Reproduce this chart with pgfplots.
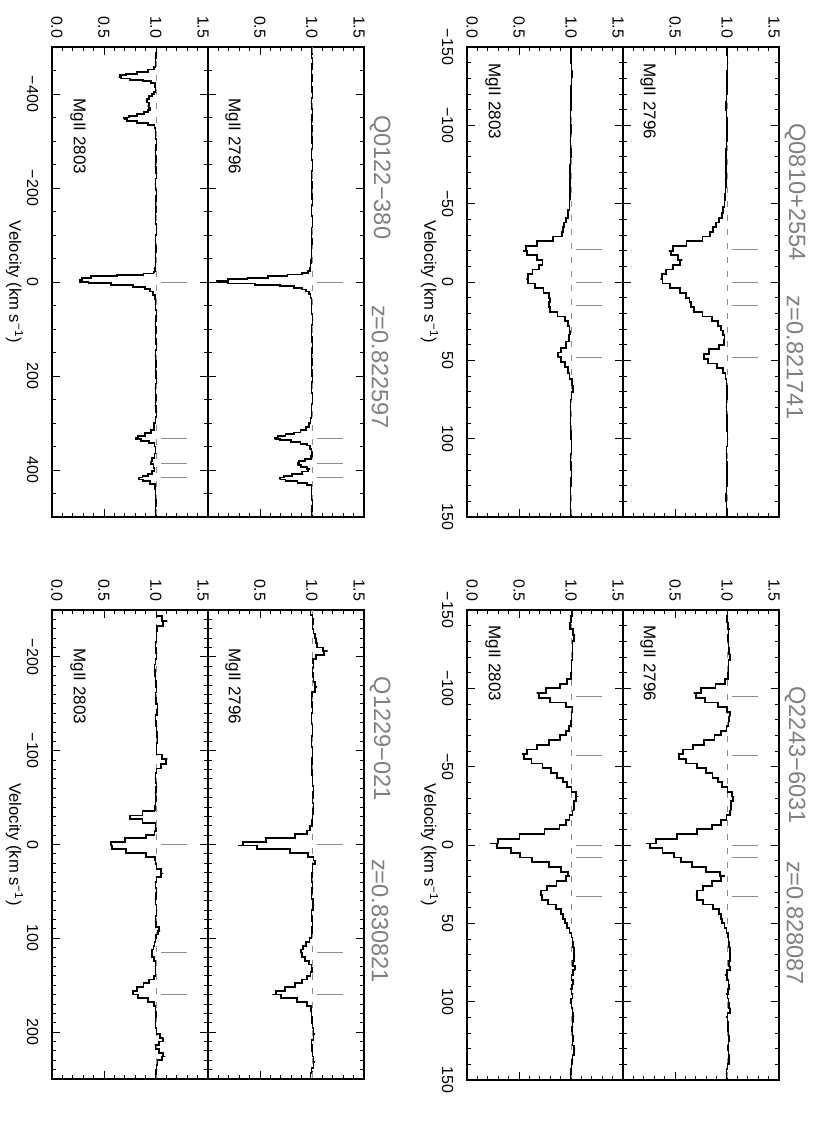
\documentclass[border=0pt]{standalone}
\usepackage{fontspec}
\setmainfont{Liberation Sans}
\usepackage{pgfplots}
\pgfplotsset{compat=1.18}
\definecolor{titlegray}{gray}{0.5}
\definecolor{markgray}{gray}{0.55}
\newcommand{\fluxlo}{\raisebox{2.5pt}[\height][\depth]{0.0}}
\newcommand{\fluxhi}{\raisebox{-2.5pt}[\height][\depth]{1.5}}
\pgfplotsset{
  panel/.style={
    y={(52pt,0pt)}, ymin=0, ymax=1.5,
    ytick={0,0.5,1,1.5}, minor ytick={0.1,0.2,0.3,0.4,0.6,0.7,0.8,0.9,1.1,1.2,1.3,1.4},
    anchor=origin, clip=false,
    axis line style={line width=0.7pt},
    tick style={black,line width=0.45pt},
    major tick length=4pt, minor tick length=2.2pt,
    tick align=inside,
    xtick pos=both, ytick pos=both,
    xticklabel pos=right, yticklabel pos=right,
    /pgf/number format/assume math mode=true,
    tick label style={font=\fontsize{8}{9.6}\selectfont},
    xticklabel style={rotate=-90,anchor=north},
    yticklabel style={rotate=-90,anchor=east},
    xticklabel shift=3.3pt,
    yticklabel shift=0.8pt,
  },
  spec/.style={black,line width=0.9pt,const plot mark mid,mark=none},
  cont/.style={markgray,line width=0.4pt,dash pattern=on 3pt off 4pt},
  comp/.style={markgray,line width=0.5pt,unbounded coords=jump},
}
\tikzset{
  ttl/.style={rotate=-90,text=titlegray,font=\fontsize{11.8}{14}\selectfont,inner sep=0pt},
  ion/.style={rotate=-90,anchor=west,font=\fontsize{8.5}{10}\selectfont,inner sep=0pt},
  vlab/.style={rotate=-90,font=\fontsize{8.3}{10}\selectfont,inner sep=0pt},
}
\begin{document}
\begin{tikzpicture}
\useasboundingbox (0,0) rectangle (415pt,-563.5pt);
%%%%%%%%%%%%%%%% Q0122-380
\begin{axis}[panel, x={(0pt,-0.235pt)}, xmin=-500, xmax=500,
  xtick={-400,-200,0,200,400}, xticklabels={−400,−200,0,200,400},
  minor xtick={-450,-350,-300,-250,-150,-100,-50,50,100,150,250,300,350,450},
  yticklabels={\fluxlo,0.5,1.0,\fluxhi}, at={(26pt,-141pt)}]
\addplot[cont] coordinates {(-500,1) (500,1)};
\addplot[comp] coordinates {(0,1.05)(0,1.30)(0,nan)(332,1.05)(332,1.30)(332,nan)(387,1.05)(387,1.30)(387,nan)(417,1.05)(417,1.30)};
\addplot[spec] coordinates {(-500,1.00)(-488,1.01)(-476,0.99)(-466,1.00)(-458,0.99)(-452,0.97)(-447,0.88)(-443,0.76)(-440,0.66)(-437,0.64)(-433,0.68)(-430,0.82)(-427,0.93)(-423,0.98)(-415,1.00)(-405,0.99)(-400,0.97)(-395,0.95)(-390,0.92)(-386,0.90)(-382,0.92)(-378,0.94)(-374,0.92)(-370,0.95)(-366,0.94)(-362,0.91)(-358,0.86)(-354,0.78)(-350,0.70)(-346,0.69)(-342,0.75)(-338,0.88)(-334,0.97)(-328,1.00)(-316,0.99)(-304,1.00)(-292,1.01)(-280,0.99)(-268,1.00)(-256,1.00)(-244,0.99)(-232,1.01)(-220,1.00)(-208,0.99)(-196,1.00)(-184,1.01)(-172,0.99)(-160,1.00)(-148,1.00)(-136,0.99)(-124,1.00)(-112,1.01)(-100,1.00)(-88,0.99)(-76,1.00)(-64,1.00)(-52,0.99)(-40,1.00)(-30,0.99)(-22,0.99)(-18,0.96)(-15,0.80)(-12,0.45)(-8,0.30)(-4,0.27)(0,0.27)(2,0.43)(6,0.70)(10,0.86)(15,0.93)(20,0.96)(28,0.98)(36,1.00)(48,0.99)(60,1.00)(72,1.01)(84,0.99)(96,1.00)(108,1.00)(120,0.99)(132,1.01)(144,1.00)(156,0.99)(168,1.00)(180,1.00)(192,0.99)(204,1.01)(216,1.00)(228,0.99)(240,1.00)(252,1.00)(264,0.99)(276,1.01)(288,1.00)(300,0.99)(315,0.97)(322,0.93)(328,0.86)(331,0.80)(334,0.81)(338,0.90)(342,0.97)(350,1.00)(365,0.99)(375,0.98)(382,0.95)(388,0.96)(395,0.99)(402,0.98)(408,0.95)(412,0.90)(416,0.84)(420,0.84)(424,0.91)(430,0.98)(440,1.00)(452,0.99)(464,1.00)(476,1.00)(488,0.99)(500,1.00)};
\node[ion] at (axis cs:-391,0.25) {MgII 2803};
\node[vlab] at (axis cs:0,-0.36) {Velocity (km s\textsuperscript{−1})};
\end{axis}
\begin{axis}[panel, x={(0pt,-0.235pt)}, xmin=-500, xmax=500,
  xtick={-400,-200,0,200,400}, xticklabels={},
  minor xtick={-450,-350,-300,-250,-150,-100,-50,50,100,150,250,300,350,450},
  yticklabels={{},0.5,1.0,\fluxhi}, at={(104pt,-141pt)}]
\addplot[cont] coordinates {(-500,1) (500,1)};
\addplot[comp] coordinates {(0,1.05)(0,1.30)(0,nan)(332,1.05)(332,1.30)(332,nan)(387,1.05)(387,1.30)(387,nan)(417,1.05)(417,1.30)};
\addplot[spec] coordinates {(-500,1.00)(-488,0.99)(-476,1.00)(-464,1.01)(-452,0.99)(-440,1.00)(-428,1.00)(-416,0.99)(-404,1.01)(-392,1.00)(-380,0.99)(-368,1.00)(-356,1.01)(-344,0.99)(-332,1.00)(-320,1.00)(-308,0.99)(-296,1.01)(-284,1.00)(-272,0.99)(-260,1.00)(-248,1.01)(-236,1.00)(-224,0.99)(-212,1.00)(-200,1.00)(-188,0.99)(-176,1.01)(-164,1.00)(-152,0.99)(-140,1.00)(-128,1.01)(-116,1.00)(-104,0.99)(-92,1.00)(-80,1.00)(-68,0.99)(-56,1.00)(-46,0.99)(-38,0.99)(-30,0.98)(-24,0.98)(-20,0.95)(-16,0.85)(-12,0.68)(-9,0.48)(-6,0.28)(-3,0.10)(0,0.08)(3,0.30)(6,0.60)(9,0.78)(12,0.88)(16,0.93)(20,0.96)(26,0.98)(34,0.99)(44,1.00)(56,0.99)(68,1.00)(80,1.01)(92,1.00)(104,0.99)(116,1.00)(128,1.00)(140,1.01)(152,0.99)(164,1.00)(176,1.00)(188,0.99)(200,1.01)(212,1.00)(224,0.99)(236,1.00)(248,1.01)(260,1.00)(270,0.99)(280,1.00)(290,0.99)(300,0.98)(308,0.96)(315,0.92)(320,0.86)(324,0.79)(328,0.70)(331,0.65)(334,0.64)(337,0.74)(340,0.85)(344,0.93)(348,0.97)(355,0.99)(362,1.00)(370,1.00)(376,0.98)(380,0.88)(385,0.87)(390,0.86)(394,0.93)(398,0.98)(403,0.95)(408,0.85)(412,0.76)(416,0.70)(420,0.69)(424,0.80)(428,0.92)(432,0.99)(440,1.00)(452,0.99)(464,1.00)(476,1.01)(488,0.99)(500,1.00)};
\node[ion] at (axis cs:-391,0.24) {MgII 2796};
\node[ttl] at (axis cs:-223,1.654) {Q0122−380};
\node[ttl] at (axis cs:181,1.654) {z=0.822597};
\end{axis}
%%%%%%%%%%%%%%%% Q0810+2554
\begin{axis}[panel, x={(0pt,-0.78333pt)}, xmin=-150, xmax=150,
  xtick={-150,-100,-50,0,50,100,150}, xticklabels={−150,−100,−50,0,50,100,150},
  minor xtick={-140,-130,...,140},
  yticklabels={\fluxlo,0.5,1.0,\fluxhi}, at={(233.5pt,-141pt)}]
\addplot[cont] coordinates {(-150,1) (150,1)};
\addplot[comp] coordinates {(-21,1.05)(-21,1.30)(-21,nan)(0,1.05)(0,1.30)(0,nan)(15,1.05)(15,1.30)(15,nan)(48,1.05)(48,1.30)};
\addplot[spec] coordinates {(-150,1.00)(-145,1.00)(-140,1.00)(-135,1.01)(-130,1.01)(-125,1.00)(-120,1.00)(-115,1.00)(-110,1.00)(-105,0.99)(-100,1.00)(-95,1.00)(-90,0.99)(-85,1.00)(-80,1.00)(-75,0.99)(-70,0.99)(-65,0.99)(-60,0.99)(-56,0.99)(-52,0.99)(-46,0.98)(-41,0.96)(-38,0.94)(-35,0.93)(-32,0.92)(-29,0.90)(-26,0.75)(-23,0.60)(-20,0.54)(-17,0.62)(-14,0.72)(-11,0.73)(-8,0.66)(-5,0.60)(-2,0.57)(1,0.61)(4,0.70)(7,0.77)(10,0.80)(13,0.79)(16,0.78)(19,0.82)(22,0.92)(25,0.96)(28,0.98)(31,0.99)(34,0.99)(38,0.97)(42,0.93)(45,0.88)(48,0.87)(51,0.93)(54,0.96)(58,0.98)(62,0.99)(66,1.03)(70,1.01)(75,1.00)(80,0.99)(85,1.00)(90,0.99)(95,1.00)(100,1.00)(105,1.01)(110,1.00)(115,0.99)(120,1.01)(125,1.00)(130,1.00)(135,0.99)(140,1.00)(145,0.99)(150,1.00)};
\node[ion] at (axis cs:-139.8,0.25) {MgII 2803};
\node[vlab] at (axis cs:0,-0.36) {Velocity (km s\textsuperscript{−1})};
\end{axis}
\begin{axis}[panel, x={(0pt,-0.78333pt)}, xmin=-150, xmax=150,
  xtick={-150,-100,-50,0,50,100,150}, xticklabels={},
  minor xtick={-140,-130,...,140},
  yticklabels={{},0.5,1.0,\fluxhi}, at={(311.5pt,-141pt)}]
\addplot[cont] coordinates {(-150,1) (150,1)};
\addplot[comp] coordinates {(-21,1.05)(-21,1.30)(-21,nan)(0,1.05)(0,1.30)(0,nan)(15,1.05)(15,1.30)(15,nan)(48,1.05)(48,1.30)};
\addplot[spec] coordinates {(-150,1.00)(-145,1.00)(-140,1.01)(-135,1.00)(-130,1.00)(-125,1.00)(-120,1.00)(-115,0.99)(-110,0.99)(-105,1.00)(-100,1.00)(-95,1.00)(-90,1.00)(-85,0.99)(-80,0.99)(-75,0.99)(-70,0.99)(-65,0.99)(-60,0.99)(-56,0.98)(-52,0.98)(-48,0.97)(-44,0.96)(-41,0.94)(-38,0.91)(-35,0.88)(-32,0.85)(-29,0.83)(-26,0.70)(-23,0.52)(-20,0.44)(-17,0.48)(-14,0.57)(-11,0.52)(-8,0.44)(-5,0.39)(-2,0.36)(1,0.40)(4,0.51)(7,0.58)(10,0.63)(13,0.65)(16,0.66)(19,0.71)(22,0.82)(25,0.89)(28,0.93)(31,0.96)(34,0.97)(37,0.98)(40,0.96)(43,0.88)(46,0.78)(49,0.77)(52,0.86)(55,0.95)(58,0.98)(62,0.99)(66,1.00)(70,1.00)(75,1.00)(80,0.99)(85,1.00)(90,1.00)(95,1.00)(100,1.01)(105,1.00)(110,0.99)(115,1.00)(120,1.00)(125,1.00)(130,1.00)(135,0.99)(140,0.99)(145,1.00)(150,1.00)};
\node[ion] at (axis cs:-139.8,0.24) {MgII 2796};
\node[ttl] at (axis cs:-57.4,1.654) {Q0810+2554};
\node[ttl] at (axis cs:48.5,1.654) {z=0.821741};
\end{axis}
%%%%%%%%%%%%%%%% Q1229-021
\begin{axis}[panel, x={(0pt,-0.469pt)}, xmin=-250, xmax=250,
  xtick={-200,-100,0,100,200}, xticklabels={−200,−100,0,100,200},
  minor xtick={-240,-230,...,240},
  yticklabels={\fluxlo,0.5,1.0,\fluxhi}, at={(26pt,-422.25pt)}]
\addplot[cont] coordinates {(-250,1) (250,1)};
\addplot[comp] coordinates {(0,1.05)(0,1.30)(0,nan)(115,1.05)(115,1.30)(115,nan)(160,1.05)(160,1.30)};
\addplot[spec] coordinates {(-250,1.00)(-244,1.01)(-238,1.11)(-233,1.02)(-228,1.00)(-222,1.01)(-216,1.00)(-210,0.99)(-204,1.01)(-198,1.00)(-192,0.99)(-186,0.98)(-180,1.00)(-174,0.99)(-168,1.01)(-162,1.00)(-156,0.99)(-150,1.01)(-144,1.02)(-138,1.00)(-132,0.99)(-126,1.01)(-120,1.00)(-114,1.02)(-108,1.01)(-102,1.00)(-96,1.01)(-91,1.11)(-86,1.08)(-81,1.01)(-76,1.00)(-71,0.99)(-66,1.00)(-61,1.01)(-56,0.99)(-51,1.00)(-46,1.00)(-41,0.99)(-36,0.99)(-31,0.75)(-27,0.75)(-23,0.99)(-18,1.00)(-14,1.00)(-10,0.97)(-7,0.83)(-3,0.58)(1,0.56)(5,0.59)(9,0.83)(13,0.98)(17,1.00)(21,0.99)(26,1.02)(31,1.07)(35,1.02)(40,0.99)(46,1.00)(52,1.01)(58,0.99)(64,1.00)(70,1.01)(76,1.00)(82,0.99)(88,1.01)(92,1.04)(96,1.00)(100,1.00)(104,0.99)(108,0.98)(112,0.97)(116,0.96)(120,0.97)(124,0.99)(128,1.00)(132,0.99)(136,1.00)(140,0.99)(144,0.97)(148,0.90)(152,0.86)(156,0.78)(160,0.78)(164,0.88)(168,0.97)(172,0.99)(178,1.00)(184,1.00)(190,0.99)(196,1.00)(202,1.01)(206,1.07)(210,1.06)(214,0.99)(218,1.00)(222,1.05)(226,1.09)(230,1.03)(235,1.00)(240,1.01)(245,0.99)(250,1.00)};
\node[ion] at (axis cs:-209.5,0.25) {MgII 2803};
\node[vlab] at (axis cs:0,-0.36) {Velocity (km s\textsuperscript{−1})};
\end{axis}
\begin{axis}[panel, x={(0pt,-0.469pt)}, xmin=-250, xmax=250,
  xtick={-200,-100,0,100,200}, xticklabels={},
  minor xtick={-240,-230,...,240},
  yticklabels={{},0.5,1.0,\fluxhi}, at={(104pt,-422.25pt)}]
\addplot[cont] coordinates {(-250,1) (250,1)};
\addplot[comp] coordinates {(0,1.05)(0,1.30)(0,nan)(115,1.05)(115,1.30)(115,nan)(160,1.05)(160,1.30)};
\addplot[spec] coordinates {(-250,0.98)(-245,0.99)(-240,1.02)(-235,1.00)(-230,1.01)(-225,1.02)(-220,1.04)(-215,1.03)(-210,1.06)(-206,1.15)(-202,1.08)(-198,1.00)(-193,1.02)(-188,1.01)(-183,1.00)(-178,1.02)(-173,1.01)(-168,1.05)(-163,1.00)(-158,1.00)(-152,0.99)(-146,1.01)(-140,1.00)(-134,0.99)(-128,1.00)(-122,1.01)(-116,1.00)(-110,0.99)(-104,1.00)(-98,1.01)(-92,1.00)(-86,1.00)(-80,0.99)(-74,1.01)(-68,1.00)(-62,1.01)(-56,1.02)(-50,1.00)(-44,1.01)(-38,1.02)(-32,1.00)(-26,1.01)(-20,0.99)(-15,0.97)(-11,0.94)(-7,0.73)(-3,0.39)(1,0.29)(5,0.65)(9,0.93)(13,0.99)(17,1.04)(21,1.01)(25,1.00)(30,1.01)(35,0.99)(40,1.00)(46,1.01)(52,0.99)(58,1.00)(64,1.02)(70,1.00)(76,0.99)(82,1.01)(88,1.00)(94,1.00)(100,0.99)(104,0.96)(108,0.93)(112,0.90)(116,0.89)(120,0.91)(124,0.95)(128,0.99)(132,1.00)(136,1.00)(140,0.97)(144,0.93)(148,0.87)(152,0.80)(156,0.68)(160,0.62)(164,0.79)(168,0.92)(172,0.98)(178,1.00)(184,0.99)(190,1.01)(196,1.00)(202,1.03)(208,1.00)(214,0.99)(220,1.01)(226,1.00)(232,1.03)(238,1.00)(244,0.99)(250,0.98)};
\node[ion] at (axis cs:-209.5,0.24) {MgII 2796};
\node[ttl] at (axis cs:-112.5,1.654) {Q1229−021};
\node[ttl] at (axis cs:81.6,1.654) {z=0.830821};
\end{axis}
%%%%%%%%%%%%%%%% Q2243-6031
\begin{axis}[panel, x={(0pt,-0.78333pt)}, xmin=-150, xmax=150,
  xtick={-150,-100,-50,0,50,100,150}, xticklabels={−150,−100,−50,0,50,100,150},
  minor xtick={-140,-130,...,140},
  yticklabels={\fluxlo,0.5,1.0,\fluxhi}, at={(233.5pt,-422.5pt)}]
\addplot[cont] coordinates {(-150,1) (150,1)};
\addplot[comp] coordinates {(-95,1.05)(-95,1.30)(-95,nan)(-57,1.05)(-57,1.30)(-57,nan)(0,1.05)(0,1.30)(0,nan)(8,1.05)(8,1.30)(8,nan)(33,1.05)(33,1.30)};
\addplot[spec] coordinates {(-150,1.00)(-146,1.02)(-142,0.98)(-138,1.00)(-134,1.04)(-130,1.02)(-126,1.01)(-122,1.02)(-118,1.01)(-114,1.00)(-110,1.01)(-106,0.99)(-103,0.94)(-100,0.85)(-97,0.67)(-94,0.72)(-91,0.88)(-88,1.02)(-85,1.01)(-82,1.00)(-79,1.01)(-76,0.99)(-73,0.97)(-70,0.94)(-67,0.85)(-64,0.73)(-61,0.62)(-58,0.53)(-55,0.56)(-52,0.68)(-49,0.77)(-46,0.84)(-43,0.89)(-40,0.95)(-37,0.98)(-34,1.03)(-31,1.07)(-28,1.03)(-25,1.02)(-22,1.03)(-19,1.00)(-16,0.97)(-13,0.93)(-10,0.85)(-7,0.64)(-4,0.37)(-1,0.22)(2,0.35)(5,0.49)(8,0.53)(11,0.72)(14,0.85)(17,0.95)(20,0.99)(23,0.91)(26,0.81)(29,0.73)(32,0.70)(35,0.74)(38,0.82)(41,0.89)(44,0.91)(47,0.93)(50,0.95)(53,0.98)(56,0.99)(59,1.02)(62,1.01)(65,1.03)(68,1.02)(71,1.04)(74,1.01)(77,1.03)(80,1.04)(83,1.00)(86,1.01)(89,1.03)(92,0.99)(95,1.02)(98,1.01)(101,0.99)(104,1.02)(107,1.01)(110,1.03)(113,1.01)(116,1.02)(119,1.00)(122,1.03)(125,1.01)(128,1.02)(131,1.04)(134,1.01)(137,1.02)(140,1.00)(143,1.01)(146,0.99)(150,1.00)};
\node[ion] at (axis cs:-140.4,0.25) {MgII 2803};
\node[vlab] at (axis cs:0,-0.36) {Velocity (km s\textsuperscript{−1})};
\end{axis}
\begin{axis}[panel, x={(0pt,-0.78333pt)}, xmin=-150, xmax=150,
  xtick={-150,-100,-50,0,50,100,150}, xticklabels={},
  minor xtick={-140,-130,...,140},
  yticklabels={{},0.5,1.0,\fluxhi}, at={(311.5pt,-422.5pt)}]
\addplot[cont] coordinates {(-150,1) (150,1)};
\addplot[comp] coordinates {(-95,1.05)(-95,1.30)(-95,nan)(-57,1.05)(-57,1.30)(-57,nan)(0,1.05)(0,1.30)(0,nan)(8,1.05)(8,1.30)(8,nan)(33,1.05)(33,1.30)};
\addplot[spec] coordinates {(-150,1.00)(-146,1.01)(-142,0.99)(-138,1.03)(-134,1.00)(-130,1.02)(-126,1.01)(-122,1.03)(-118,1.02)(-114,1.01)(-110,1.02)(-106,1.00)(-103,0.96)(-100,0.82)(-97,0.68)(-94,0.72)(-91,0.85)(-88,0.98)(-85,1.02)(-82,1.03)(-79,1.01)(-76,1.02)(-73,0.97)(-70,0.92)(-67,0.84)(-64,0.72)(-61,0.62)(-58,0.53)(-55,0.55)(-52,0.66)(-49,0.76)(-46,0.83)(-43,0.89)(-40,0.93)(-37,0.98)(-34,1.03)(-31,1.07)(-28,1.04)(-25,1.03)(-22,1.04)(-19,1.01)(-16,0.98)(-13,0.91)(-10,0.80)(-7,0.62)(-4,0.42)(-1,0.22)(2,0.30)(5,0.46)(8,0.52)(11,0.60)(14,0.72)(17,0.88)(20,0.98)(23,0.90)(26,0.81)(29,0.73)(32,0.70)(35,0.72)(38,0.82)(41,0.91)(44,0.94)(47,0.95)(50,0.96)(53,0.99)(56,1.00)(59,1.02)(62,1.01)(65,1.03)(68,1.02)(71,1.04)(74,1.01)(77,1.03)(80,1.02)(83,0.98)(86,1.02)(89,1.01)(92,1.03)(95,0.99)(98,1.02)(101,1.01)(104,1.03)(107,1.02)(110,0.99)(113,1.02)(116,1.00)(119,1.02)(122,1.01)(125,1.03)(128,1.00)(131,1.02)(134,1.01)(137,1.03)(140,1.01)(143,1.00)(146,0.99)(150,1.00)};
\node[ion] at (axis cs:-140.4,0.24) {MgII 2796};
\node[ttl] at (axis cs:-57.4,1.654) {Q2243−6031};
\node[ttl] at (axis cs:49.8,1.654) {z=0.828087};
\end{axis}
\end{tikzpicture}
\end{document}
